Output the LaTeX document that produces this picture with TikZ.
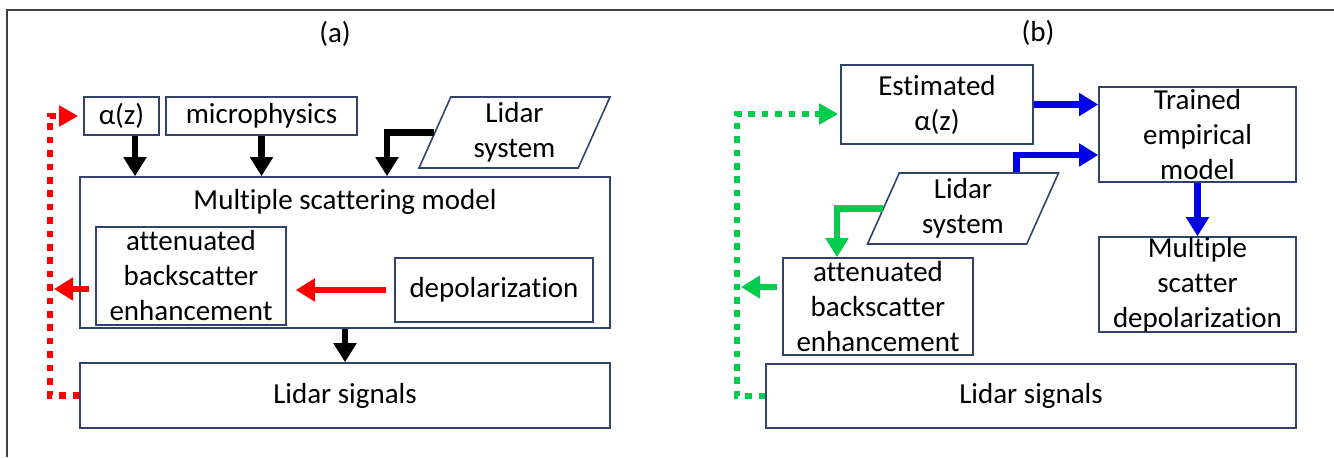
\documentclass[tikz,border=0pt]{standalone}
\usepackage{fontspec}
\setmainfont{Carlito}[Ligatures=NoCommon]
\usetikzlibrary{arrows.meta,shapes.geometric}
\definecolor{boxblue}{HTML}{2F4468}
\definecolor{flowred}{HTML}{FF0000}
\definecolor{flowblue}{HTML}{0000E6}
\definecolor{flowgreen}{HTML}{00CC4E}

\begin{document}
\begin{tikzpicture}[
		x=0.5pt, y=-0.5pt,
		every node/.style={font=\fontsize{14.5}{17.5}\selectfont, align=center, inner sep=0pt},
		box/.style={rectangle, draw=boxblue, line width=0.8pt},
		lidarbox/.style={trapezium, trapezium left angle=62, trapezium right angle=118,
			trapezium stretches body, draw=boxblue, line width=0.8pt,
			minimum height=35.5pt, minimum width=95.5pt},
		flow/.style={-{Triangle[length=9.5pt,width=11pt]}, line width=3.3pt},
		loop/.style={-{Triangle[length=9.5pt,width=10pt]}, line width=3.3pt, dash pattern=on 3.3pt off 3.4pt}
	]
  \useasboundingbox (0,0) rectangle (1334,457);
  \draw[line width=1pt, black!75] (7,457) -- (7,10) -- (1334,10);

  % (a) forward model
  \node (lab_a) [font=\fontsize{14.5}{17}\selectfont] at (335,34) {(a)};
  \node (alpha) [box, minimum width=37.5pt, minimum height=19pt] at (121.5,116) {α(z)};
  \node (micro) [box, minimum width=95.5pt, minimum height=19pt] at (261.5,116) {microphysics};
  \node (lidar_a) [lidarbox] at (514.5,132.5) {Lidar\\system};
  \node (msm) [box, minimum width=265pt, minimum height=75.5pt] at (345,252.5) {};
  \node (msm_label) at (345,202) {Multiple scattering model};
  \node (att_a) [box, minimum width=95pt, minimum height=49pt] at (191,276) {attenuated\\backscatter\\enhancement};
  \node (depol) [box, minimum width=99pt, minimum height=32pt] at (494,290) {depolarization};
  \node (sig_a) [box, minimum width=265pt, minimum height=32.5pt] at (345,395.5) {Lidar signals};
  \coordinate (loop_a) at (50,116);

  \draw[flow] ([xshift=6.75pt]alpha.south) -- ([xshift=6.75pt]alpha.south |- msm.north);
  \draw[flow] (micro.south) -- (micro.south |- msm.north);
  \draw[flow] (lidar_a.west) -| ([xshift=21pt]msm.north);
  \draw[flow] (msm.south) -- (sig_a.north);
  \draw[flow, flowred, shorten <=4pt, shorten >=4.5pt] (depol.west) -- (depol.west -| att_a.east);
  \draw[flow, flowred, shorten <=3pt, shorten >=2pt] ([yshift=-6.5pt]att_a.west) -- ([yshift=-6.5pt]att_a.west -| loop_a);
  \draw[loop, flowred, shorten >=2.5pt] (sig_a.west) -| (loop_a) -- (alpha.west);

  % (b) empirical model
  \node (lab_b) [font=\fontsize{14.5}{17}\selectfont] at (1038,33) {(b)};
  \node (est) [box, minimum width=96pt, minimum height=39.5pt] at (937,104.5) {Estimated\\α(z)};
  \node (trained) [box, minimum width=98.5pt, minimum height=47.5pt] at (1197.5,134.5) {Trained\\empirical\\model};
  \node (lidar_b) [lidarbox] at (963,208.5) {Lidar\\system};
  \node (att_b) [box, minimum width=95pt, minimum height=48.5pt] at (878,306.5) {attenuated\\backscatter\\enhancement};
  \node (msd) [box, minimum width=98.5pt, minimum height=47.5pt] at (1197.5,284.5) {Multiple\\scatter\\depolarization};
  \node (sig_b) [box, minimum width=265pt, minimum height=32pt] at (1031,396) {Lidar signals};
  \coordinate (loop_b) at (737,114);

  \draw[flow, flowblue] (est.east) -- (est.east -| trained.west);
  \draw[flow, flowblue] ([xshift=26.75pt]lidar_b.north) |- ([yshift=-10.25pt]trained.west);
  \draw[flow, flowblue] (trained.south) -- (msd.north);
  \draw[flow, flowgreen] (lidar_b.west) -| ([xshift=-20.5pt]att_b.north);
  \draw[flow, flowgreen, shorten <=2.5pt, shorten >=2pt] ([yshift=9.75pt]att_b.west) -- ([yshift=9.75pt]att_b.west -| loop_b);
  \draw[loop, flowgreen, shorten >=1pt] (sig_b.west) -| (loop_b) -- (loop_b -| est.west);
\end{tikzpicture}
\end{document}
